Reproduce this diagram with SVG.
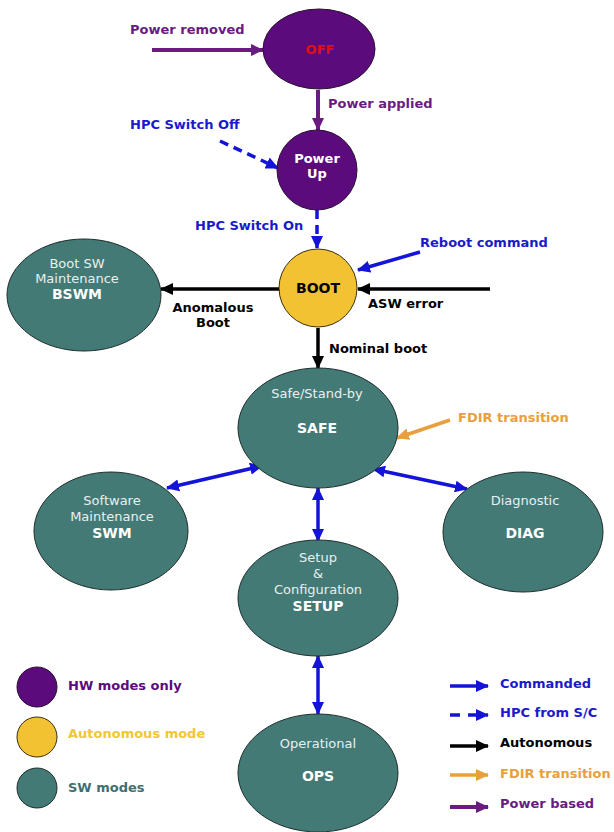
<svg xmlns="http://www.w3.org/2000/svg" width="614" height="832" viewBox="0 0 614 832">
<style>
text{font-family:"DejaVu Sans","Liberation Sans",sans-serif;font-size:13px}
.b{font-weight:bold}
.w{fill:#ffffff}
.wt{fill:#e8f0ef}
.c{text-anchor:middle}
.hw{fill:#5b0b7b;stroke:#2a1030;stroke-width:1}
.au{fill:#f2c232;stroke:#3a3010;stroke-width:1}
.sw{fill:#437a76;stroke:#1e2e2c;stroke-width:1}
.pl{stroke:#6a1b82;stroke-width:4;fill:none}
.bl{stroke:#1414d8;stroke-width:3.5;fill:none}
.bd{stroke:#1414d8;stroke-width:3.5;fill:none;stroke-dasharray:9,6}
.kl{stroke:#000;stroke-width:3.5;fill:none}
.ol{stroke:#e8a03c;stroke-width:3.5;fill:none}
.tp{fill:#6a1b82}
.tb{fill:#1a1acc}
.tk{fill:#000}
.to{fill:#e8a03c}
</style>
<defs>
<marker id="ap" markerUnits="userSpaceOnUse" markerWidth="14" markerHeight="14" refX="12" refY="7" orient="auto-start-reverse" viewBox="0 0 14 14"><path d="M0,1 L13,7 L0,13 z" fill="#6a1b82"/></marker>
<marker id="ab" markerUnits="userSpaceOnUse" markerWidth="14" markerHeight="14" refX="12" refY="7" orient="auto-start-reverse" viewBox="0 0 14 14"><path d="M0,1 L13,7 L0,13 z" fill="#1414d8"/></marker>
<marker id="ak" markerUnits="userSpaceOnUse" markerWidth="14" markerHeight="14" refX="12" refY="7" orient="auto-start-reverse" viewBox="0 0 14 14"><path d="M0,1 L13,7 L0,13 z" fill="#000"/></marker>
<marker id="ao" markerUnits="userSpaceOnUse" markerWidth="14" markerHeight="14" refX="12" refY="7" orient="auto-start-reverse" viewBox="0 0 14 14"><path d="M0,1 L13,7 L0,13 z" fill="#e8a03c"/></marker>
</defs>
<rect width="614" height="832" fill="#ffffff"/>

<g id="connectors">
<line class="pl" x1="152" y1="50" x2="263" y2="50" marker-end="url(#ap)"/>
<line class="pl" x1="318" y1="90" x2="318" y2="130" marker-end="url(#ap)"/>
<line class="bd" x1="220" y1="141" x2="278" y2="168" marker-end="url(#ab)"/>
<line class="bd" x1="317" y1="210" x2="317" y2="248" marker-end="url(#ab)"/>
<line class="bl" x1="420" y1="252" x2="358" y2="270" marker-end="url(#ab)"/>
<line class="kl" x1="490" y1="289" x2="358" y2="289" marker-end="url(#ak)"/>
<line class="kl" x1="280" y1="289" x2="161" y2="289" marker-end="url(#ak)"/>
<line class="kl" x1="318" y1="328" x2="318" y2="368" marker-end="url(#ak)"/>
<line class="ol" x1="450" y1="420" x2="397" y2="438" marker-end="url(#ao)"/>
<line class="bl" x1="262" y1="466" x2="167" y2="488" marker-start="url(#ab)" marker-end="url(#ab)"/>
<line class="bl" x1="373" y1="469" x2="467" y2="489" marker-start="url(#ab)" marker-end="url(#ab)"/>
<line class="bl" x1="318" y1="488" x2="318" y2="541" marker-start="url(#ab)" marker-end="url(#ab)"/>
<line class="bl" x1="318" y1="656" x2="318" y2="714" marker-start="url(#ab)" marker-end="url(#ab)"/>
<text class="b tp" x="130" y="34">Power removed</text>
<text class="b tp" x="328" y="108">Power applied</text>
<text class="b tb" x="130" y="129">HPC Switch Off</text>
<text class="b tb" x="195" y="230">HPC Switch On</text>
<text class="b tb" x="420" y="247">Reboot command</text>
<text class="b tk" x="368" y="308">ASW error</text>
<text class="b tk c" x="213" y="312">Anomalous</text>
<text class="b tk c" x="213" y="327">Boot</text>
<text class="b tk" x="329" y="353">Nominal boot</text>
<text class="b to" x="458" y="422">FDIR transition</text>
</g>

<g id="off">
<ellipse class="hw" cx="319" cy="49" rx="56" ry="40"/>
<text class="b c" x="320" y="54" fill="#e01010" font-size="14">OFF</text>
</g>
<g id="powerup">
<circle class="hw" cx="317" cy="170" r="40"/>
<text class="b c w" x="317" y="163">Power</text>
<text class="b c w" x="317" y="178">Up</text>
</g>
<g id="boot">
<circle class="au" cx="318" cy="288" r="39"/>
<text class="b c tk" x="318" y="293" style="font-size:14px">BOOT</text>
</g>
<g id="bswm">
<ellipse class="sw" cx="84" cy="295" rx="77" ry="56"/>
<text class="c wt" x="77" y="268">Boot SW</text>
<text class="c wt" x="77" y="283">Maintenance</text>
<text class="b c w" x="77" y="299" style="font-size:14px">BSWM</text>
</g>
<g id="safe">
<ellipse class="sw" cx="318" cy="428" rx="80" ry="60"/>
<text class="c wt" x="317" y="398">Safe/Stand-by</text>
<text class="b c w" x="317" y="433" style="font-size:14px">SAFE</text>
</g>
<g id="swm">
<ellipse class="sw" cx="111" cy="531" rx="77" ry="59"/>
<text class="c wt" x="112" y="505">Software</text>
<text class="c wt" x="112" y="521">Maintenance</text>
<text class="b c w" x="112" y="538" style="font-size:14px">SWM</text>
</g>
<g id="diag">
<ellipse class="sw" cx="523" cy="532" rx="80" ry="60"/>
<text class="c wt" x="525" y="505">Diagnostic</text>
<text class="b c w" x="525" y="538" style="font-size:14px">DIAG</text>
</g>
<g id="setup">
<ellipse class="sw" cx="318" cy="598" rx="80" ry="58"/>
<text class="c wt" x="318" y="562">Setup</text>
<text class="c wt" x="318" y="578">&amp;</text>
<text class="c wt" x="318" y="594">Configuration</text>
<text class="b c w" x="318" y="611" style="font-size:14px">SETUP</text>
</g>
<g id="ops">
<ellipse class="sw" cx="318" cy="773" rx="80" ry="59"/>
<text class="c wt" x="318" y="748">Operational</text>
<text class="b c w" x="318" y="781" style="font-size:14px">OPS</text>
</g>

<g id="legend-modes">
<circle class="hw" cx="37" cy="687" r="20"/>
<text class="b" x="68" y="690" fill="#5b0b7b">HW modes only</text>
<circle class="au" cx="37" cy="737" r="20"/>
<text class="b" x="68" y="738" fill="#f0c830">Autonomous mode</text>
<circle class="sw" cx="37" cy="788" r="20"/>
<text class="b" x="68" y="792" fill="#3f6f6f">SW modes</text>
</g>
<g id="legend-arrows">
<line class="bl" x1="450" y1="686" x2="488" y2="686" marker-end="url(#ab)"/>
<text class="b tb" x="500" y="688">Commanded</text>
<line class="bl" x1="450" y1="715" x2="488" y2="715" stroke-dasharray="10,8" marker-end="url(#ab)"/>
<text class="b tb" x="500" y="717">HPC from S/C</text>
<line class="kl" x1="450" y1="746" x2="488" y2="746" marker-end="url(#ak)"/>
<text class="b tk" x="500" y="747">Autonomous</text>
<line class="ol" x1="450" y1="775" x2="488" y2="775" marker-end="url(#ao)"/>
<text class="b to" x="500" y="778">FDIR transition</text>
<line class="pl" x1="450" y1="807" x2="488" y2="807" marker-end="url(#ap)"/>
<text class="b tp" x="500" y="808">Power based</text>
</g>
</svg>
